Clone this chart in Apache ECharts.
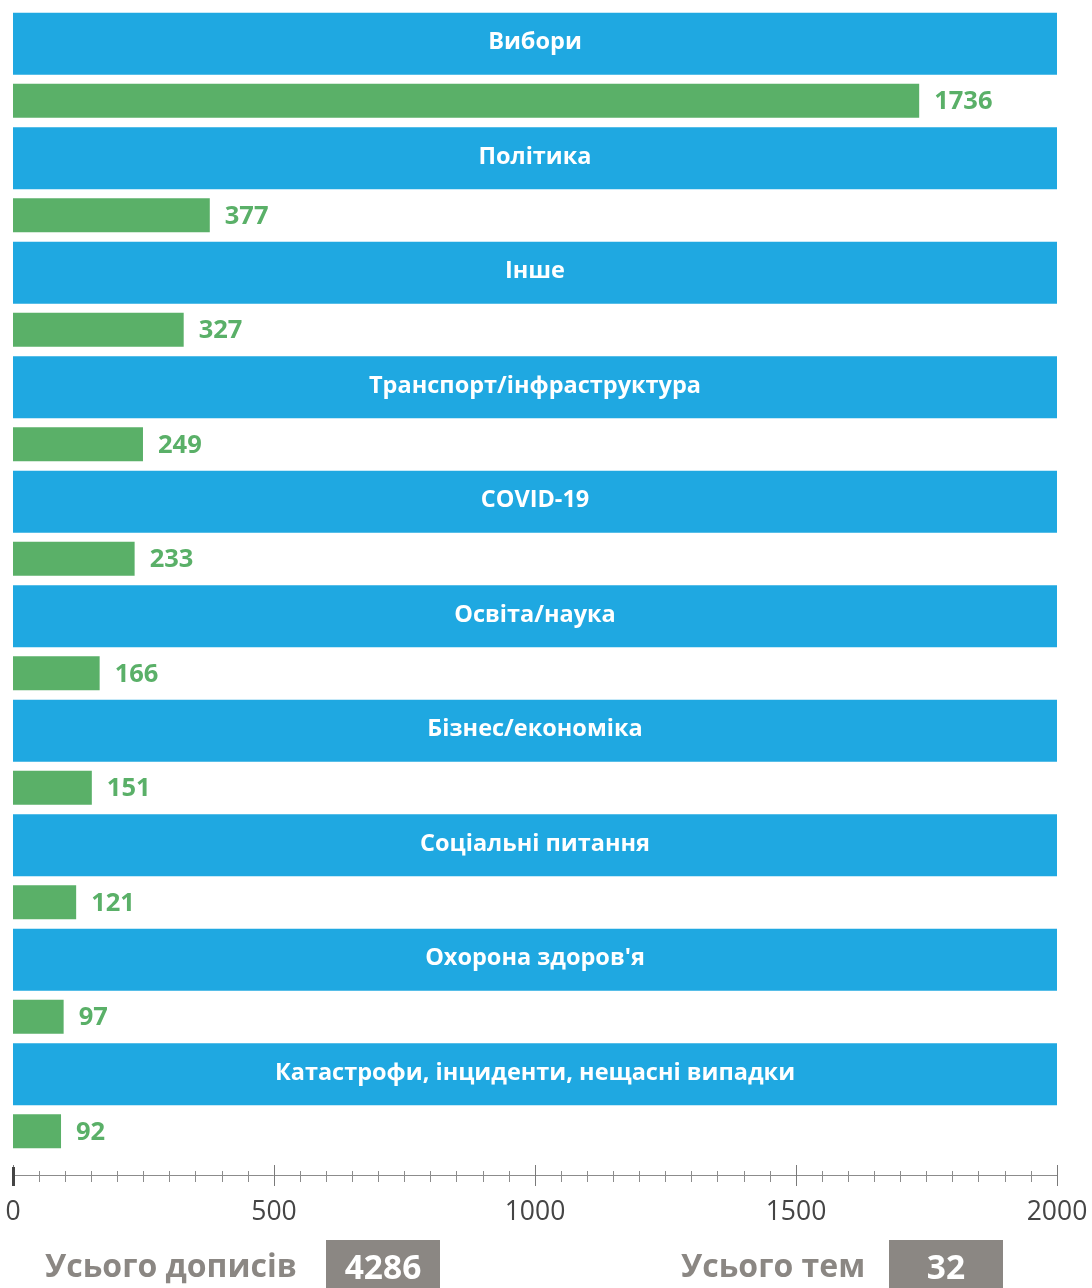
<!DOCTYPE html>
<html>
<head>
<meta charset="utf-8">
<title>Теми дописів</title>
<script src="https://cdn.jsdelivr.net/npm/echarts@6/dist/echarts.min.js"></script>
<style>
  html, body { margin: 0; padding: 0; background: #ffffff; }
  #chart { width: 1092px; height: 1288px; }
</style>
</head>
<body>
<div id="chart"></div>
<script>
// Topics, top to bottom
const categories = [
  'Вибори',
  'Політика',
  'Інше',
  'Транспорт/інфраструктура',
  'COVID-19',
  'Освіта/наука',
  'Бізнес/економіка',
  'Соціальні питання',
  "Охорона здоров'я",
  'Катастрофи, інциденти, нещасні випадки'
];

// Number of posts per topic
const postCounts = [1736, 377, 327, 249, 233, 166, 151, 121, 97, 92];

// Full-width title banners (run to the end of the scale)
const bannerValues = [2000, 2000, 2000, 2000, 2000, 2000, 2000, 2000, 2000, 2000];

// Scale of the x axis
const axisMin = 0;
const axisMax = 2000;
const axisStep = 500;

// Totals shown under the chart
const totalPostsLabel = 'Усього дописів';
const totalPosts = 4286;
const totalTopicsLabel = 'Усього тем';
const totalTopics = 32;

const BLUE = '#1fa8e1';
const GREEN = '#5ab068';
const GREY = '#8b8783';
const FONT = '"Open Sans", "Noto Sans", sans-serif';

const chart = echarts.init(document.getElementById('chart'), null, { renderer: 'canvas' });

// shared value-axis settings; several copies draw ticks that cross the line
function valueAxis(extra) {
  return Object.assign({
    type: 'value',
    min: axisMin,
    max: axisMax,
    interval: axisStep,
    position: 'bottom',
    offset: 22,
    splitLine: { show: false },
    minorSplitLine: { show: false },
    axisLine: { show: false },
    axisLabel: { show: false },
    axisTick: { show: false },
    minorTick: { show: false }
  }, extra);
}

const option = {
  animation: false,
  backgroundColor: '#ffffff',
  textStyle: { fontFamily: FONT },
  grid: {
    left: 13,
    right: 35,
    top: 8,
    height: 1145,
    containLabel: false
  },
  yAxis: {
    type: 'category',
    data: categories,
    inverse: true,
    axisLine: { show: false },
    axisTick: { show: false },
    axisLabel: { show: false },
    splitLine: { show: false }
  },
  xAxis: [
    // main axis: line, labels, downward ticks
    valueAxis({
      axisLine: { show: true, onZero: false, lineStyle: { color: '#8c8c8c', width: 1 } },
      axisTick: { show: true, inside: false, length: 11, lineStyle: { color: '#7a7a7a', width: 1 } },
      minorTick: { show: true, splitNumber: 10, length: 7, lineStyle: { color: '#8c8c8c', width: 1 } },
      axisLabel: {
        show: true,
        margin: 24,
        fontSize: 26.5,
        fontFamily: FONT,
        color: '#454545',
        formatter: function (v) { return String(v); }
      }
    }),
    // upward halves of the ticks
    valueAxis({
      axisTick: { show: true, inside: true, length: 10, lineStyle: { color: '#7a7a7a', width: 1 } },
      minorTick: { show: true, splitNumber: 10, length: 4, lineStyle: { color: '#8c8c8c', width: 1 } }
    }),
    // heavier tick at zero, both directions
    valueAxis({
      axisTick: { show: true, inside: false, length: 11, customValues: [0], lineStyle: { color: '#444', width: 3 } }
    }),
    valueAxis({
      axisTick: { show: true, inside: true, length: 8, customValues: [0], lineStyle: { color: '#444', width: 3 } }
    })
  ],
  series: [
    {
      name: 'Тема',
      type: 'bar',
      xAxisIndex: 0,
      data: bannerValues,
      barWidth: 62,
      barGap: '14.5%',
      silent: true,
      itemStyle: { color: BLUE },
      label: {
        show: true,
        position: 'inside',
        formatter: '{b}',
        color: '#ffffff',
        fontFamily: FONT,
        fontSize: 23.5,
        fontWeight: 'bold',
        offset: [0, -1]
      },
      emphasis: { disabled: true }
    },
    {
      name: 'Дописи',
      type: 'bar',
      xAxisIndex: 0,
      data: postCounts,
      barWidth: 34,
      barGap: '14.5%',
      silent: true,
      itemStyle: { color: GREEN },
      label: {
        show: true,
        position: 'right',
        distance: 15,
        offset: [0, 1],
        color: GREEN,
        fontFamily: FONT,
        fontSize: 25.5,
        fontWeight: 'bold'
      },
      emphasis: { disabled: true }
    }
  ],
  graphic: [
    {
      type: 'text',
      x: 45,
      y: 1268,
      style: {
        text: totalPostsLabel,
        font: 'bold 32px ' + FONT,
        fill: GREY,
        align: 'left',
        verticalAlign: 'middle'
      }
    },
    {
      type: 'rect',
      shape: { x: 326, y: 1240, width: 114, height: 48 },
      style: { fill: GREY }
    },
    {
      type: 'text',
      x: 383,
      y: 1269,
      style: {
        text: String(totalPosts),
        font: 'bold 33.5px ' + FONT,
        fill: '#ffffff',
        align: 'center',
        verticalAlign: 'middle'
      }
    },
    {
      type: 'text',
      x: 681,
      y: 1268,
      style: {
        text: totalTopicsLabel,
        font: 'bold 32px ' + FONT,
        fill: GREY,
        align: 'left',
        verticalAlign: 'middle'
      }
    },
    {
      type: 'rect',
      shape: { x: 889, y: 1240, width: 114, height: 48 },
      style: { fill: GREY }
    },
    {
      type: 'text',
      x: 946,
      y: 1269,
      style: {
        text: String(totalTopics),
        font: 'bold 33.5px ' + FONT,
        fill: '#ffffff',
        align: 'center',
        verticalAlign: 'middle'
      }
    }
  ]
};

chart.setOption(option);
</script>
</body>
</html>
